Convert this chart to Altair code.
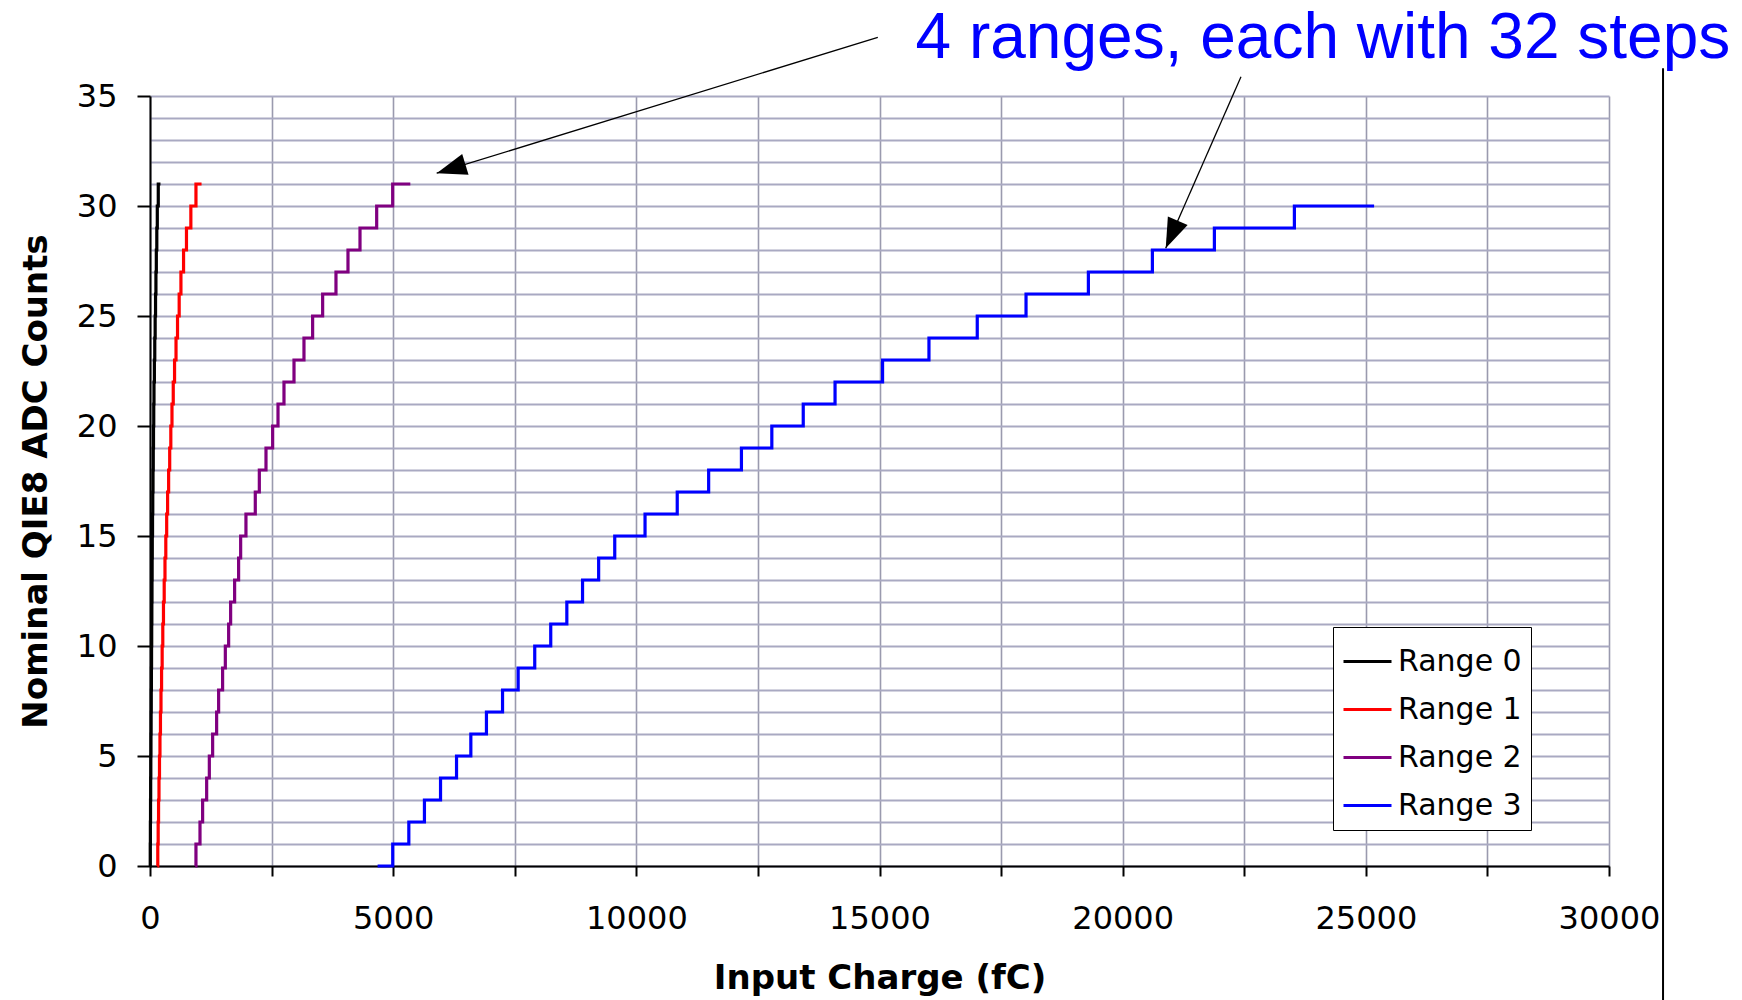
import altair as alt
import pandas as pd

# ---------------- data ----------------
series_names = ["Range 0", "Range 1", "Range 2", "Range 3"]
series_colors = ["#000000", "#FF0000", "#800080", "#0000FF"]

# charge (fC) where each range's code 0 starts, the charges of the code
# transitions k -> k+1, and the charge where the last code ends
range0_start = 0
range0_steps = [5, 8, 11, 14, 17, 20, 23, 26, 29, 32, 35, 38, 41, 44, 47, 52,
                57, 62, 67, 72, 77, 82, 90, 98, 106, 114, 122, 130, 140, 150, 170]
range0_end = 215

range1_start = 150
range1_steps = [160, 168, 176, 185, 195, 205, 215, 226, 238, 250, 263, 277, 292,
                308, 325, 343, 362, 383, 405, 428, 452, 478, 505, 535, 566, 600,
                636, 690, 750, 840, 945]
range1_end = 1060

range2_start = 930
range2_steps = [945, 1028, 1082, 1165, 1220, 1288, 1370, 1411, 1493, 1549, 1617,
                1658, 1740, 1822, 1864, 1973, 2165, 2248, 2385, 2522, 2632, 2755,
                2961, 3166, 3344, 3550, 3824, 4071, 4318, 4661, 4990]
range2_end = 5353

range3_start = 4680
range3_steps = [4991, 5322, 5643, 5974, 6303, 6597, 6918, 7249, 7570, 7911, 8240,
                8571, 8894, 9225, 9556, 10179, 10841, 11487, 12161, 12786, 13432,
                14086, 15063, 16017, 17010, 18013, 19295, 20611, 21886, 23531]
range3_end = 25170

x_tick_values = list(range(0, 30001, 2500))
y_tick_values = list(range(0, 36))

annotation_text = "4 ranges, each with 32 steps"
annotation_pos = [15742, 36.71]
# arrows: start (x, y) -> tip (x2, y2), head angle in degrees
arrow_x = [14965, 22433]
arrow_y = [37.67, 35.88]
arrow_x2 = [5895, 20885]
arrow_y2 = [31.49, 28.08]
arrow_angle = [252.9, 203.7]
edge_line = [31111, 36.26, -6.09]

# ---------------- build tables ----------------
rows = []
for name, start, steps, end in [
    ("Range 0", range0_start, range0_steps, range0_end),
    ("Range 1", range1_start, range1_steps, range1_end),
    ("Range 2", range2_start, range2_steps, range2_end),
    ("Range 3", range3_start, range3_steps, range3_end),
]:
    rows.append({"series": name, "charge": start, "count": 0})
    for k, t in enumerate(steps):
        rows.append({"series": name, "charge": t, "count": k + 1})
    rows.append({"series": name, "charge": end, "count": len(steps)})
df = pd.DataFrame(rows)

arrows = pd.DataFrame({"charge": arrow_x, "count": arrow_y,
                       "charge2": arrow_x2, "count2": arrow_y2,
                       "angle": arrow_angle})
heads = pd.DataFrame({"charge": arrow_x2, "count": arrow_y2, "angle": arrow_angle})
label_df = pd.DataFrame({"charge": [annotation_pos[0]], "count": [annotation_pos[1]],
                         "label": [annotation_text]})
edge_df = pd.DataFrame({"charge": [edge_line[0]], "count": [edge_line[1]],
                        "count2": [edge_line[2]]})

# ---------------- scales / axes ----------------
FONT = "DejaVu Sans"
PLOT_W, PLOT_H = 1459, 770

x_scale = alt.Scale(domain=[0, 30000], nice=False, zero=False)
y_scale = alt.Scale(domain=[0, 35], nice=False, zero=False)

x_axis = alt.Axis(
    values=x_tick_values, format="d",
    labelExpr="datum.value % 5000 === 0 ? datum.label : ''",
    labelFont=FONT, labelFontSize=32, labelColor="black",
    labelPadding=27, labelFlush=False, labelOverlap=False,
    tickColor="black", tickWidth=2, tickSize=10,
    domainColor="black", domainWidth=2,
    grid=True, gridColor="#9a9aae", gridWidth=1.6,
    title="Input Charge (fC)", titleFont=FONT, titleFontSize=34,
    titleFontWeight="bold", titleColor="black",
    titleX=PLOT_W / 2, titleY=122, titleAlign="center", titleBaseline="alphabetic",
)
y_axis = alt.Axis(
    values=y_tick_values, format="d",
    labelExpr="datum.value % 5 === 0 ? datum.label : ''",
    labelFont=FONT, labelFontSize=32, labelColor="black",
    labelPadding=20, labelFlush=False, labelOverlap=False,
    tickColor="black", tickWidth=2, tickSize=13,
    tickOpacity={"condition": {"test": "datum.value % 5 === 0", "value": 1}, "value": 0},
    domainColor="black", domainWidth=2,
    grid=True, gridColor="#a9a9c2", gridWidth=2,
    title="Nominal QIE8 ADC Counts", titleFont=FONT, titleFontSize=34,
    titleFontWeight="bold", titleColor="black",
    titleAngle=270, titleX=-104, titleY=PLOT_H / 2,
    titleAlign="center", titleBaseline="alphabetic",
)

X = alt.X("charge:Q", scale=x_scale, axis=x_axis)
Y = alt.Y("count:Q", scale=y_scale, axis=y_axis)

lines = alt.Chart(df).mark_line(interpolate="step-after", strokeWidth=3.2).encode(
    x=X, y=Y,
    color=alt.Color(
        "series:N",
        scale=alt.Scale(domain=series_names, range=series_colors),
        legend=alt.Legend(
            title=None, orient="none", legendX=1183, legendY=531,
            fillColor="white", strokeColor="black", padding=9,
            labelFont=FONT, labelFontSize=30, labelColor="black", labelOffset=5,
            symbolType="stroke", symbolSize=2304, symbolStrokeWidth=3,
            rowPadding=7,
        ),
    ),
    order=alt.Order("charge:Q"),
)

arrow_lines = alt.Chart(arrows).mark_rule(color="black", strokeWidth=1.3).encode(
    x=X, y=Y, x2="charge2:Q", y2="count2:Q"
)

arrow_heads = alt.Chart(heads).mark_point(
    shape="M0,0 L-0.36,1 L0.36,1 Z", filled=True, color="black",
    size=3600, opacity=1, strokeWidth=0,
).encode(x=X, y=Y, angle=alt.Angle("angle:Q", scale=None))

note = alt.Chart(label_df).mark_text(
    align="left", baseline="alphabetic", font="Liberation Sans",
    fontSize=64, color="#0000FF",
).encode(x=X, y=Y, text="label:N")

edge = alt.Chart(edge_df).mark_rule(color="black", strokeWidth=2).encode(
    x=X, y=Y, y2="count2:Q"
)

chart = alt.layer(lines, arrow_lines, arrow_heads, note, edge).properties(
    width=PLOT_W, height=PLOT_H,
    padding={"left": 150, "top": 96, "right": 133, "bottom": 134},
    autosize=alt.AutoSizeParams(type="none"),
    background="white",
).configure_view(strokeWidth=0)

chart.save("out.html", embed_options={"renderer": "svg", "actions": False})
